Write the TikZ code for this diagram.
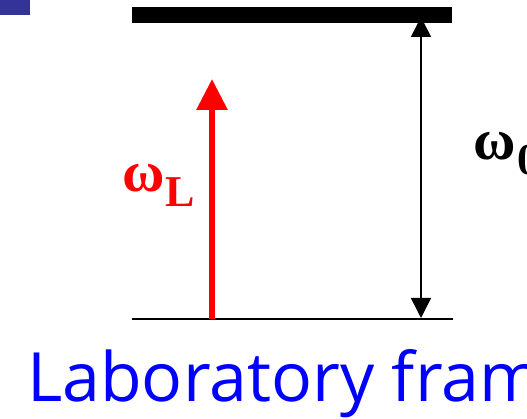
\documentclass[tikz,border=0pt]{standalone}
\usepackage{fontspec}
\setmainfont{Liberation Serif}
\newfontfamily\labfont{Open Sans}
\usetikzlibrary{arrows.meta}
\definecolor{slideblue}{RGB}{51,51,153}
\definecolor{labblue}{RGB}{0,0,255}
\definecolor{arrred}{RGB}{255,0,0}
\begin{document}
\begin{tikzpicture}[x=1pt,y=-1pt,
  level/.style={draw=black,line width=#1},
  omega/.style={inner sep=0pt,anchor=base west,font=\fontsize{58}{60}\selectfont\bfseries},
  sub/.style={inner sep=0pt,anchor=base west,font=\fontsize{44}{46}\selectfont\bfseries}]
\useasboundingbox (0,0) rectangle (527,419);
\fill[slideblue] (0,0) rectangle (30,15);
% level end points
\coordinate (ul) at (132,15);
\coordinate (ur) at (452,15);
\coordinate (ll) at (132,319);
\coordinate (lr) at (453,319);
% transition arrow end points
\coordinate (t0) at (421,17);
\coordinate (b0) at (421,318);
\coordinate (rb) at (212,319);
\coordinate (rt) at (212,79);
\draw[line width=1.5pt,{Triangle[length=20pt,width=20pt]}-{Triangle[length=20pt,width=20pt]}] (t0) -- (b0);
\draw[level=16pt] (ul) -- (ur);
\draw[level=2pt] (ll) -- (lr);
\draw[arrred,line width=6pt,-{Triangle[length=31pt,width=30pt]}] (rb) -- (rt);
\node[omega,text=arrred] (wL) at (122,192) {ω};
\node[sub,text=arrred] (L) at (165,207) {L};
\node[omega] (w0) at (473,160) {ω};
\node[sub] (z0) at (517,175) {0};
\node[inner sep=0pt,anchor=base west,text=labblue,font=\labfont\fontsize{68}{70}\selectfont] (lab) at (27,401) {Laboratory frame};
\end{tikzpicture}
\end{document}
